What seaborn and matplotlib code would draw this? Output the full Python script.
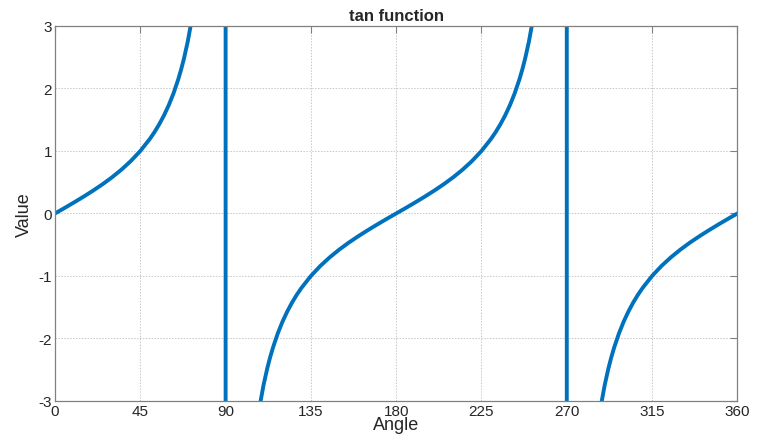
import numpy as np
import pandas as pd
import matplotlib
matplotlib.use("Agg")
import matplotlib.pyplot as plt
import seaborn as sns

# angle (deg) and value, extra points near the jumps
angles = [0, 5, 10, 15, 20, 25, 30, 35, 40, 45, 50, 52.5, 55, 57.5, 60, 62.5, 65, 66.5,
          68, 70, 72, 75, 80, 85,
          89.99, 90.01,
          95, 100, 105, 108, 110, 112, 113.5, 115, 117.5, 120, 122.5, 125, 127.5, 130,
          135, 140, 145, 150, 155, 160, 165, 170, 175, 180,
          185, 190, 195, 200, 205, 210, 215, 220, 225, 230, 232.5, 235, 237.5, 240, 242.5,
          245, 246.5, 248, 250, 252, 255, 260, 265,
          269.99, 270.01,
          275, 280, 285, 288, 290, 292, 293.5, 295, 297.5, 300, 302.5, 305, 307.5, 310,
          315, 320, 325, 330, 335, 340, 345, 350, 355, 360]
values = [0.0, 0.087, 0.176, 0.268, 0.364, 0.466, 0.577, 0.700, 0.839, 1.0, 1.192, 1.303,
          1.428, 1.570, 1.732, 1.921, 2.145, 2.300, 2.475, 2.747, 3.078, 3.732, 5.671, 11.43,
          5729.6, -5729.6,
          -11.43, -5.671, -3.732, -3.078, -2.747, -2.475, -2.300, -2.145, -1.921, -1.732,
          -1.570, -1.428, -1.303, -1.192,
          -1.0, -0.839, -0.700, -0.577, -0.466, -0.364, -0.268, -0.176, -0.087, 0.0,
          0.087, 0.176, 0.268, 0.364, 0.466, 0.577, 0.700, 0.839, 1.0, 1.192, 1.303, 1.428,
          1.570, 1.732, 1.921, 2.145, 2.300, 2.475, 2.747, 3.078, 3.732, 5.671, 11.43,
          5729.6, -5729.6,
          -11.43, -5.671, -3.732, -3.078, -2.747, -2.475, -2.300, -2.145, -1.921, -1.732,
          -1.570, -1.428, -1.303, -1.192,
          -1.0, -0.839, -0.700, -0.577, -0.466, -0.364, -0.268, -0.176, -0.087, 0.0]
x_ticks = [0, 45, 90, 135, 180, 225, 270, 315, 360]
y_ticks = [-3, -2, -1, 0, 1, 2, 3]

df = pd.DataFrame({"Angle": angles, "Value": values})

sns.set_style("white")
plt.rcParams["font.family"] = ["Liberation Sans", "DejaVu Sans"]
plt.rcParams["axes.unicode_minus"] = False

fig = plt.figure(figsize=(7.59, 4.35), dpi=100)
ax = fig.add_axes([0.0725, 0.076, 0.899, 0.862])

sns.lineplot(data=df, x="Angle", y="Value", sort=False, estimator=None,
             color="#0072BD", linewidth=2.8, ax=ax)

ax.set_xlim(0, 360)
ax.set_ylim(-3, 3)
ax.set_xticks(x_ticks)
ax.set_yticks(y_ticks)
ax.grid(True, linestyle=(0, (1.5, 1.5)), color="#c8c8c8", linewidth=0.7)
ax.tick_params(direction="in", length=5, width=0.8, colors="#808080",
               labelcolor="#262626", labelsize=11, top=True, right=True,
               labelright=False, labeltop=False, pad=2)
for s in ax.spines.values():
    s.set_color("#808080")
    s.set_linewidth(0.9)

ax.set_xlabel("Angle", fontsize=13, color="#262626", labelpad=-1)
ax.set_ylabel("Value", fontsize=13, color="#262626", labelpad=4)
ax.set_title("tan function", fontsize=12, fontweight="bold", pad=4)

fig.savefig("out.png", dpi=100)
